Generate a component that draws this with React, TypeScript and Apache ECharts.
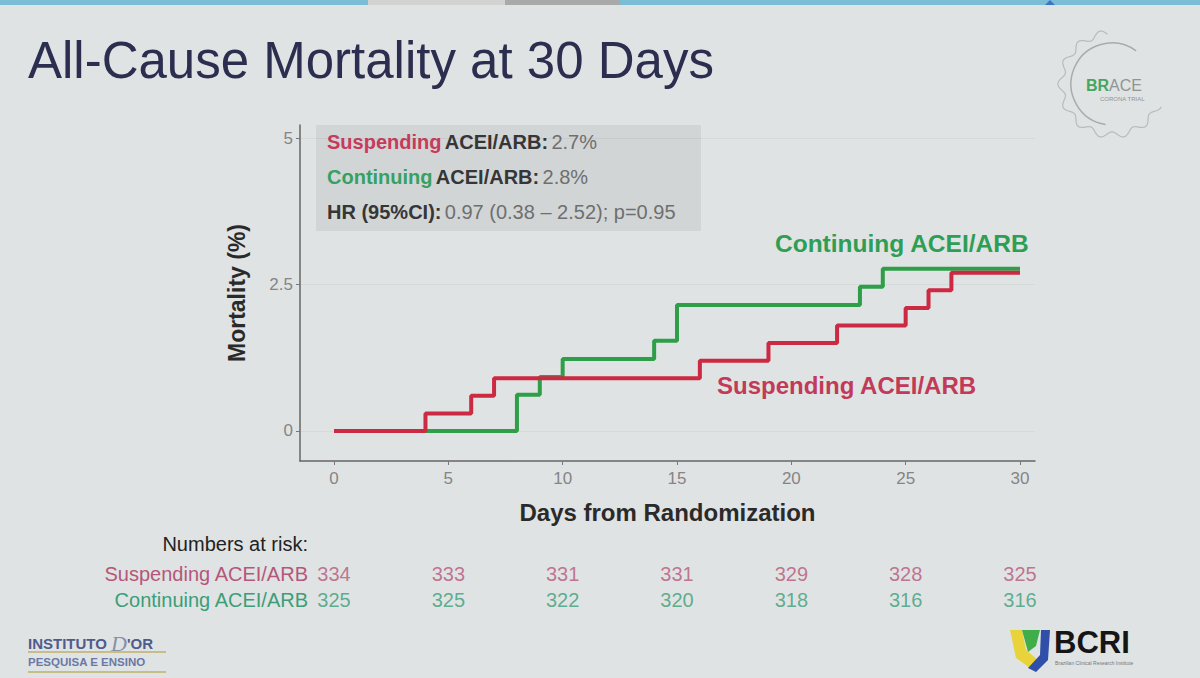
import React, { useEffect, useRef } from "react";
import * as echarts from "echarts";

// ---- data ----
const riskDays = [0, 5, 10, 15, 20, 25, 30];
const xTicks = [0, 5, 10, 15, 20, 25, 30];
const yTicks = [0, 2.5, 5];
const groups = ["Suspending ACEI/ARB", "Continuing ACEI/ARB"];
const suspendingRisk = [334, 333, 331, 331, 329, 328, 325];
const continuingRisk = [325, 325, 322, 320, 318, 316, 316];
const suspendingDays = [0, 4, 6, 7, 16, 19, 22, 25, 26, 27, 30];
const suspendingMort = [0, 0.3, 0.6, 0.9, 1.2, 1.5, 1.8, 2.1, 2.4, 2.7, 2.7];
const continuingDays = [0, 8, 9, 10, 14, 15, 23, 24, 30];
const continuingMort = [0, 0.62, 0.92, 1.23, 1.54, 2.15, 2.46, 2.77, 2.77];

// axis extents (ggplot-style expansion around the data range)
const X_MIN = -1.487;
const X_MAX = 30.656;
const Y_MIN = -0.512;
const Y_MAX = 5.222;

const RED = "#cc2943";
const GREEN = "#2f9e48";
const FONT = "'Liberation Sans', Arial, sans-serif";

export default function App() {
  const ref = useRef<HTMLDivElement>(null);
  useEffect(() => {
    if (!ref.current) return;
    const chart = echarts.init(ref.current, null, { renderer: "svg" });

    // gear outline for BRACE logo
    const gearPts: number[][] = [];
    const gcx = 1112, gcy = 84;
    for (let a = 95; a <= 335; a += 2) {
      const rad = (a * Math.PI) / 180;
      const r = 51 + 3.2 * Math.cos(rad * 14);
      gearPts.push([gcx + r * Math.cos(rad), gcy - r * Math.sin(rad)]);
    }

    const option: any = {
      animation: false,
      backgroundColor: "#e0e3e3",
      grid: [
        { left: 300, right: 165, top: 125, bottom: 217 },
        { left: 334, right: 180, top: 561, bottom: 65 },
      ],
      xAxis: [
        {
          gridIndex: 0,
          type: "value",
          min: X_MIN,
          max: X_MAX,
          axisLine: { show: true, onZero: false, lineStyle: { color: "#666", width: 1.5 } },
          axisTick: { show: true, length: 4, customValues: xTicks, lineStyle: { color: "#777" } },
          axisLabel: {
            color: "#858585",
            fontSize: 17,
            fontFamily: FONT,
            margin: 9,
            customValues: xTicks,
          },
          splitLine: { show: false },
          name: "Days from Randomization",
          nameLocation: "middle",
          nameGap: 39,
          nameTextStyle: { color: "#2a2a2a", fontSize: 24, fontWeight: "bold", fontFamily: FONT },
        },
        {
          gridIndex: 1,
          type: "value",
          min: 0,
          max: 30,
          show: false,
        },
      ],
      yAxis: [
        {
          gridIndex: 0,
          type: "value",
          min: Y_MIN,
          max: Y_MAX,
          axisLine: { show: true, onZero: false, lineStyle: { color: "#666", width: 1.5 } },
          axisTick: { show: true, length: 4, customValues: yTicks, lineStyle: { color: "#777" } },
          axisLabel: {
            color: "#858585",
            fontSize: 17,
            fontFamily: FONT,
            margin: 7,
            customValues: yTicks,
          },
          splitLine: { show: true, lineStyle: { color: "rgba(0,0,0,0.045)", width: 1 } },
          name: "Mortality (%)",
          nameLocation: "middle",
          nameGap: 52,
          nameTextStyle: { color: "#2a2a2a", fontSize: 23, fontWeight: "bold", fontFamily: FONT },
        },
        {
          gridIndex: 1,
          type: "category",
          data: groups,
          inverse: true,
          axisLine: { show: false },
          axisTick: { show: false },
          splitLine: { show: false },
          axisLabel: {
            interval: 0,
            margin: 26,
            fontFamily: FONT,
            fontSize: 20,
            formatter: (v: string) => (v === groups[0] ? `{s|${v}}` : `{c|${v}}`),
            rich: {
              s: { color: "#b5577a", fontSize: 20, fontFamily: FONT },
              c: { color: "#3b9e78", fontSize: 20, fontFamily: FONT },
            },
          },
        },
      ],
      series: [
        {
          type: "line",
          name: "Continuing",
          xAxisIndex: 0,
          yAxisIndex: 0,
          step: "end",
          showSymbol: false,
          symbol: "none",
          lineStyle: { color: GREEN, width: 4 },
          data: continuingDays.map((d, i) => [d, continuingMort[i]]),
        },
        {
          type: "line",
          name: "Suspending",
          xAxisIndex: 0,
          yAxisIndex: 0,
          step: "end",
          showSymbol: false,
          symbol: "none",
          lineStyle: { color: RED, width: 4 },
          data: suspendingDays.map((d, i) => [d, suspendingMort[i]]),
        },
        {
          type: "scatter",
          xAxisIndex: 1,
          yAxisIndex: 1,
          symbolSize: 1,
          itemStyle: { color: "transparent" },
          label: {
            show: true,
            position: "inside",
            color: "#b5577a",
            fontSize: 20,
            fontFamily: FONT,
            formatter: (p: any) => String(p.value[2]),
          },
          data: riskDays.map((d, i) => [d, groups[0], suspendingRisk[i]]),
        },
        {
          type: "scatter",
          xAxisIndex: 1,
          yAxisIndex: 1,
          symbolSize: 1,
          itemStyle: { color: "transparent" },
          label: {
            show: true,
            position: "inside",
            color: "#3b9e78",
            fontSize: 20,
            fontFamily: FONT,
            formatter: (p: any) => String(p.value[2]),
          },
          data: riskDays.map((d, i) => [d, groups[1], continuingRisk[i]]),
        },
      ],
      graphic: [
        // top strip
        { type: "rect", left: 0, top: 0, shape: { width: 1200, height: 5 }, style: { fill: "#7bbdd4" } },
        { type: "rect", left: 368, top: 0, shape: { width: 137, height: 5 }, style: { fill: "#d2d2d0" } },
        { type: "rect", left: 505, top: 0, shape: { width: 115, height: 5 }, style: { fill: "#a9a9a9" } },
        { type: "polygon", shape: { points: [[1045, 5], [1050, 0], [1055, 5]] }, style: { fill: "#3f74c8" } },
        // title
        {
          type: "text",
          left: 28,
          top: 35,
          style: {
            text: "All-Cause Mortality at 30 Days",
            fontSize: 51,
            fontFamily: FONT,
            fill: "#2b2e4f",
          },
        },
        // BRACE logo
        { type: "polyline", shape: { points: gearPts }, style: { stroke: "#b9bcbc", lineWidth: 1.2, fill: "none" } },
        {
          type: "arc",
          shape: { cx: gcx, cy: gcy, r: 41, startAngle: -Math.PI * 0.3, endAngle: Math.PI * 0.55, clockwise: false },
          style: { stroke: "#a9acac", lineWidth: 1.5, fill: "none" },
        },
        {
          type: "text",
          left: 1086,
          top: 77,
          style: {
            text: "{g|BR}{a|ACE}",
            rich: {
              g: { fontSize: 16, fontWeight: "bold", fill: "#45a662", fontFamily: FONT },
              a: { fontSize: 16, fill: "#8f9494", fontFamily: FONT },
            },
          },
        },
        {
          type: "text",
          left: 1100,
          top: 96,
          style: { text: "CORONA TRIAL", fontSize: 6, fill: "#8f9494", fontFamily: FONT },
        },
        // stats box
        { type: "rect", left: 316, top: 125, shape: { width: 385, height: 106 }, style: { fill: "#d2d5d6" } },
        {
          type: "text",
          left: 327,
          top: 132,
          style: {
            text: "{r|Suspending} {k|ACEI/ARB:} {n|2.7%}",
            rich: {
              r: { fill: "#c83a5b", fontSize: 20, fontWeight: "bold", fontFamily: FONT },
              k: { fill: "#363636", fontSize: 20, fontWeight: "bold", fontFamily: FONT },
              n: { fill: "#6f6f6f", fontSize: 20, fontFamily: FONT },
            },
          },
        },
        {
          type: "text",
          left: 327,
          top: 167,
          style: {
            text: "{g|Continuing} {k|ACEI/ARB:} {n|2.8%}",
            rich: {
              g: { fill: "#37a063", fontSize: 20, fontWeight: "bold", fontFamily: FONT },
              k: { fill: "#363636", fontSize: 20, fontWeight: "bold", fontFamily: FONT },
              n: { fill: "#6f6f6f", fontSize: 20, fontFamily: FONT },
            },
          },
        },
        {
          type: "text",
          left: 327,
          top: 202,
          style: {
            text: "{k|HR (95%CI):} {n|0.97 (0.38 – 2.52); p=0.95}",
            rich: {
              k: { fill: "#363636", fontSize: 20, fontWeight: "bold", fontFamily: FONT },
              n: { fill: "#6f6f6f", fontSize: 20, fontFamily: FONT },
            },
          },
        },
        // in-plot labels
        {
          type: "text",
          left: 775,
          top: 231,
          style: { text: "Continuing ACEI/ARB", fontSize: 24.5, fontWeight: "bold", fill: "#2f9e55", fontFamily: FONT },
        },
        {
          type: "text",
          left: 717,
          top: 373,
          style: { text: "Suspending ACEI/ARB", fontSize: 24, fontWeight: "bold", fill: "#c23a58", fontFamily: FONT },
        },
        // numbers at risk heading
        {
          type: "text",
          right: 1200 - 308,
          top: 534,
          style: { text: "Numbers at risk:", fontSize: 20, fill: "#222", fontFamily: FONT, align: "right" },
        },
        // Instituto D'Or logo
        {
          type: "text",
          left: 28,
          top: 632,
          style: {
            text: "{a|INSTITUTO }{d|D}{b|'OR}",
            rich: {
              a: { fontSize: 15, fontWeight: "bold", fill: "#4d5c8c", fontFamily: FONT },
              d: { fontSize: 22, fontStyle: "italic", fill: "#8a90a8", fontFamily: "serif" },
              b: { fontSize: 15, fontWeight: "bold", fill: "#4d5c8c", fontFamily: FONT },
            },
          },
        },
        { type: "rect", left: 28, top: 651, shape: { width: 138, height: 2 }, style: { fill: "#c8bd86" } },
        {
          type: "text",
          left: 28,
          top: 656,
          style: { text: "PESQUISA E ENSINO", fontSize: 11.5, fontWeight: "bold", fill: "#6a78a8", fontFamily: FONT },
        },
        { type: "rect", left: 28, top: 671, shape: { width: 138, height: 2 }, style: { fill: "#c8bd86" } },
        // BCRI logo
        {
          type: "polygon",
          shape: { points: [[1010, 630], [1022, 630], [1026, 650], [1038, 660], [1030, 668], [1016, 658]] },
          style: { fill: "#e8d43a" },
        },
        {
          type: "polygon",
          shape: { points: [[1022, 630], [1040, 630], [1036, 646], [1028, 652]] },
          style: { fill: "#3fae4a" },
        },
        {
          type: "polygon",
          shape: { points: [[1041, 630], [1050, 630], [1048, 660], [1036, 672], [1028, 668], [1040, 655]] },
          style: { fill: "#2f4fa8" },
        },
        {
          type: "text",
          left: 1054,
          top: 627,
          style: { text: "BCRI", fontSize: 31, fontWeight: "bold", fill: "#151515", fontFamily: FONT },
        },
        {
          type: "text",
          left: 1055,
          top: 660,
          style: { text: "Brazilian Clinical Research Institute", fontSize: 5, fill: "#777", fontFamily: FONT },
        },
      ],
    };
    chart.setOption(option);
    return () => chart.dispose();
  }, []);
  return (
    <div
      ref={ref}
      style={{ position: "fixed", left: 0, top: 0, width: 1200, height: 678 }}
    />
  );
}
